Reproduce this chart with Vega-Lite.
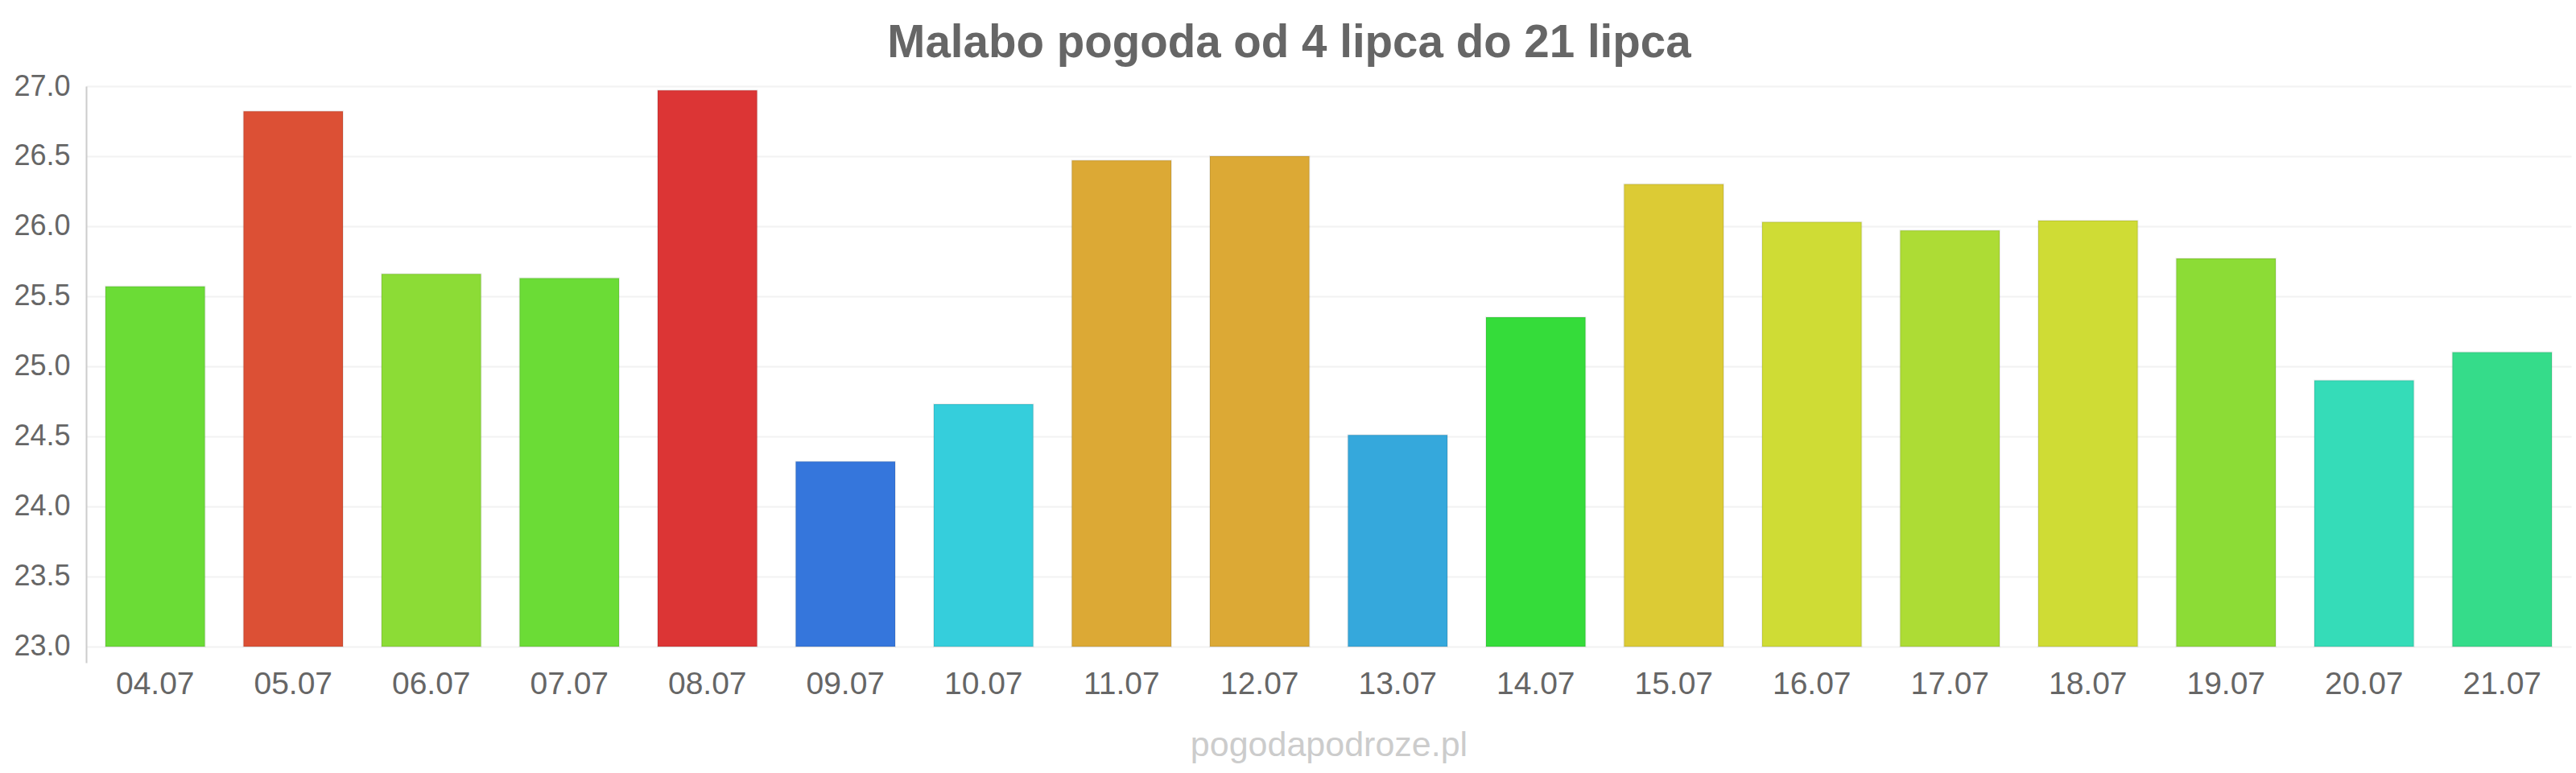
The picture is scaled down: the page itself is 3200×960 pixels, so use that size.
{
  "$schema": "https://vega.github.io/schema/vega-lite/v6.json",
  "width": 3087,
  "height": 716,
  "autosize": {"type": "none"},
  "padding": {"left": 107, "top": 107, "right": 6, "bottom": 137},
  "background": "white",
  "title": {
    "text": "Malabo pogoda od 4 lipca do 21 lipca",
    "font": "Liberation Sans",
    "fontSize": 56.5,
    "fontWeight": "bold",
    "color": "#666666",
    "anchor": "middle",
    "frame": "group",
    "baseline": "alphabetic",
    "offset": 15,
    "dx": -49,
    "dy": 53
  },
  "data": {
    "values": [
      {"day": "04.07", "temp": 25.57, "color": "#6bdc36"},
      {"day": "05.07", "temp": 26.82, "color": "#dc5035"},
      {"day": "06.07", "temp": 25.66, "color": "#8cdc36"},
      {"day": "07.07", "temp": 25.63, "color": "#6bdc36"},
      {"day": "08.07", "temp": 26.97, "color": "#dc3535"},
      {"day": "09.07", "temp": 24.32, "color": "#3576dc"},
      {"day": "10.07", "temp": 24.73, "color": "#35cedc"},
      {"day": "11.07", "temp": 26.47, "color": "#dca935"},
      {"day": "12.07", "temp": 26.50, "color": "#dca935"},
      {"day": "13.07", "temp": 24.51, "color": "#35a8dc"},
      {"day": "14.07", "temp": 25.35, "color": "#35dc3a"},
      {"day": "15.07", "temp": 26.30, "color": "#dccb35"},
      {"day": "16.07", "temp": 26.03, "color": "#cfdc35"},
      {"day": "17.07", "temp": 25.97, "color": "#addc35"},
      {"day": "18.07", "temp": 26.04, "color": "#cfdc35"},
      {"day": "19.07", "temp": 25.77, "color": "#8cdc36"},
      {"day": "20.07", "temp": 24.90, "color": "#35dcb8"},
      {"day": "21.07", "temp": 25.10, "color": "#35dc8a"}
    ]
  },
  "mark": {"type": "bar", "strokeWidth": 2, "stroke": "#000000", "strokeOpacity": 0.08},
  "encoding": {
    "x": {
      "field": "day",
      "type": "ordinal",
      "sort": null,
      "scale": {"paddingInner": 0.28, "paddingOuter": 0.14},
      "axis": {
        "title": "pogodapodroze.pl",
        "titleFont": "Liberation Sans",
        "titleFontSize": 43,
        "titleFontWeight": "normal",
        "titleColor": "#cccccc",
        "titlePadding": 35,
        "labelFont": "Liberation Sans",
        "labelFontSize": 39,
        "labelColor": "#666666",
        "labelAngle": 0,
        "labelPadding": 7,
        "ticks": false,
        "domain": false,
        "grid": false
      }
    },
    "y": {
      "field": "temp",
      "type": "quantitative",
      "scale": {"domain": [22.885, 27], "nice": false, "zero": false},
      "axis": {
        "title": null,
        "values": [23, 23.5, 24, 24.5, 25, 25.5, 26, 26.5, 27],
        "format": ".1f",
        "labelFont": "Liberation Sans",
        "labelFontSize": 36,
        "labelColor": "#666666",
        "labelPadding": 20,
        "ticks": false,
        "domain": true,
        "domainColor": "#cccccc",
        "domainWidth": 2,
        "grid": true,
        "gridColor": "#f2f2f2",
        "gridWidth": 2
      }
    },
    "y2": {"datum": 23},
    "color": {"field": "color", "type": "nominal", "scale": null, "legend": null}
  },
  "config": {"view": {"stroke": null}}
}
